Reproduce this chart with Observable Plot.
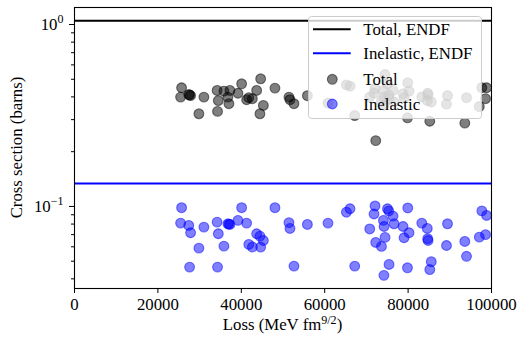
<!DOCTYPE html>
<html><head><meta charset="utf-8">
<script src="https://cdn.jsdelivr.net/npm/d3@7"></script>
<script src="https://cdn.jsdelivr.net/npm/@observablehq/plot@0.6"></script>
<style>
body{margin:0;background:#fff;}
#wrap{position:relative;width:518px;height:340px;font-family:"Liberation Serif",serif;}
#legend{position:absolute;left:308px;top:16px;}
</style></head><body><div id="wrap"></div>
<script>
const loss = [25440, 25680, 27400, 27600, 27840, 29830, 31030, 34200, 34300, 34490, 35830, 36790, 37030, 37270, 39200, 40080, 41280, 41800, 42650, 43680, 44470, 44640, 45290, 48070, 51430, 51670, 52630, 55850, 60790, 65210, 66070, 67200, 70800, 71830, 72070, 72240, 73610, 74090, 74230, 74470, 74200, 75050, 75360, 75430, 76390, 76630, 78790, 79030, 79850, 79920, 80230, 83280, 84600, 84700, 84790, 85200, 85560, 89210, 89450, 93600, 94010, 97080, 97680, 98570, 98830];
const total = [0.399, 0.449, 0.412, 0.410, 0.407, 0.323, 0.399, 0.434, 0.333, 0.382, 0.430, 0.399, 0.367, 0.434, 0.419, 0.472, 0.386, 0.396, 0.391, 0.434, 0.323, 0.503, 0.359, 0.447, 0.399, 0.386, 0.367, 0.406, 0.370, 0.466, 0.458, 0.316, 0.399, 0.420, 0.445, 0.230, 0.380, 0.434, 0.400, 0.531, 0.360, 0.472, 0.410, 0.390, 0.434, 0.375, 0.416, 0.395, 0.307, 0.478, 0.430, 0.400, 0.382, 0.419, 0.410, 0.294, 0.375, 0.365, 0.407, 0.287, 0.396, 0.354, 0.449, 0.391, 0.449];
const inelastic = [0.0810, 0.0984, 0.0786, 0.0464, 0.0717, 0.0590, 0.0770, 0.0820, 0.0464, 0.0708, 0.0605, 0.0803, 0.0800, 0.0796, 0.0838, 0.0984, 0.0810, 0.0618, 0.0598, 0.0708, 0.0687, 0.0598, 0.0650, 0.0984, 0.0815, 0.0757, 0.0470, 0.0796, 0.0810, 0.0930, 0.0971, 0.0470, 0.0752, 0.0909, 0.1006, 0.0634, 0.0603, 0.0838, 0.0776, 0.0676, 0.0418, 0.0971, 0.0945, 0.0480, 0.0885, 0.0803, 0.0776, 0.0673, 0.0460, 0.0981, 0.0717, 0.0810, 0.0757, 0.0665, 0.0650, 0.0450, 0.0497, 0.0610, 0.0803, 0.0642, 0.0532, 0.0678, 0.0945, 0.0700, 0.0892];
const endfTotal = 1.048;
const endfInelastic = 0.1337;
const xTicks = [0, 20000, 40000, 60000, 80000, 100000];
const yMajor = [0.1, 1];
const yMajorLabels = ["10^−1", "10^0"];
const yMinor = [0.04, 0.05, 0.06, 0.07, 0.08, 0.09, 0.2, 0.3, 0.4, 0.5, 0.6, 0.7, 0.8, 0.9];
const legendLabels = ["Total, ENDF", "Inelastic, ENDF", "Total", "Inelastic"];

const rowsT = loss.map((x, i) => ({x, y: total[i]}));
const rowsI = loss.map((x, i) => ({x, y: inelastic[i]}));
const FONT = '"Liberation Serif", "Times New Roman", serif';

const chart = Plot.plot({
  width: 518, height: 340,
  marginLeft: 74, marginRight: 27, marginTop: 7, marginBottom: 52,
  style: {fontFamily: FONT, fontSize: "16.8px", background: "white", color: "black", overflow: "visible"},
  x: {domain: [0, 100000]},
  y: {type: "log", domain: [0.0354, 1.24]},
  marks: [
    Plot.ruleY([endfTotal], {stroke: "black", strokeWidth: 2.1}),
    Plot.ruleY([endfInelastic], {stroke: "blue", strokeWidth: 2.1}),
    Plot.dot(rowsT, {x: "x", y: "y", r: 4.9, fill: "black", fillOpacity: 0.5, stroke: "black", strokeOpacity: 0.5, strokeWidth: 1.1}),
    Plot.dot(rowsI, {x: "x", y: "y", r: 4.9, fill: "blue", fillOpacity: 0.5, stroke: "blue", strokeOpacity: 0.5, strokeWidth: 1.1}),
    Plot.axisX(xTicks, {tickSize: 5, tickPadding: 5, tickFormat: d3.format("d"), label: null}),
    Plot.axisY(yMajor, {tickSize: 5, tickPadding: 6, tickFormat: d => yMajorLabels[yMajor.indexOf(d)], label: null}),
    Plot.axisY(yMinor, {tickSize: 3, tickFormat: () => "", label: null}),
    Plot.frame({stroke: "black", strokeWidth: 1.1})
  ]
});
document.getElementById("wrap").appendChild(chart);

// superscripts in tick labels
chart.querySelectorAll("text").forEach(t => {
  const m = t.textContent.match(/^10\^(.+)$/);
  if (m) t.innerHTML = `10<tspan dy="-7" font-size="12">${m[1]}</tspan>`;
});

const svg = d3.select(chart);
svg.append("text")
  .attr("x", 282.5).attr("y", 330)
  .attr("text-anchor", "middle")
  .attr("font-family", FONT).attr("font-size", 16.8).attr("fill", "black")
  .html('Loss (MeV fm<tspan dy="-6" font-size="12">9/2</tspan><tspan dy="6">)</tspan>');
svg.append("text")
  .attr("transform", "translate(21.5,147.5) rotate(-90)")
  .attr("text-anchor", "middle")
  .attr("font-family", FONT).attr("font-size", 16.8).attr("fill", "black")
  .text("Cross section (barns)");

// legend overlay
const lg = d3.select("#wrap").append("svg")
  .attr("id", "legend").attr("width", 175).attr("height", 104);
lg.append("rect").attr("x", 0.5).attr("y", 0.5).attr("width", 173).attr("height", 102)
  .attr("rx", 3).attr("fill", "rgba(255,255,255,0.8)").attr("stroke", "#cccccc").attr("stroke-width", 1);
const rowsY = [13.3, 37.3, 63.3, 88];
lg.append("line").attr("x1", 5).attr("x2", 42.7).attr("y1", rowsY[0]).attr("y2", rowsY[0]).attr("stroke", "black").attr("stroke-width", 2.1);
lg.append("line").attr("x1", 5).attr("x2", 42.7).attr("y1", rowsY[1]).attr("y2", rowsY[1]).attr("stroke", "blue").attr("stroke-width", 2.1);
lg.append("circle").attr("cx", 24.3).attr("cy", rowsY[2]).attr("r", 4.9).attr("fill", "black").attr("fill-opacity", 0.5).attr("stroke", "black").attr("stroke-opacity", 0.5).attr("stroke-width", 1.1);
lg.append("circle").attr("cx", 24.3).attr("cy", rowsY[3]).attr("r", 4.9).attr("fill", "blue").attr("fill-opacity", 0.5).attr("stroke", "blue").attr("stroke-opacity", 0.5).attr("stroke-width", 1.1);
legendLabels.forEach((s, i) => {
  lg.append("text").attr("x", 55.3).attr("y", rowsY[i] + 5.8)
    .attr("font-family", FONT).attr("font-size", 16.8).attr("fill", "black").text(s);
});
</script></body></html>
